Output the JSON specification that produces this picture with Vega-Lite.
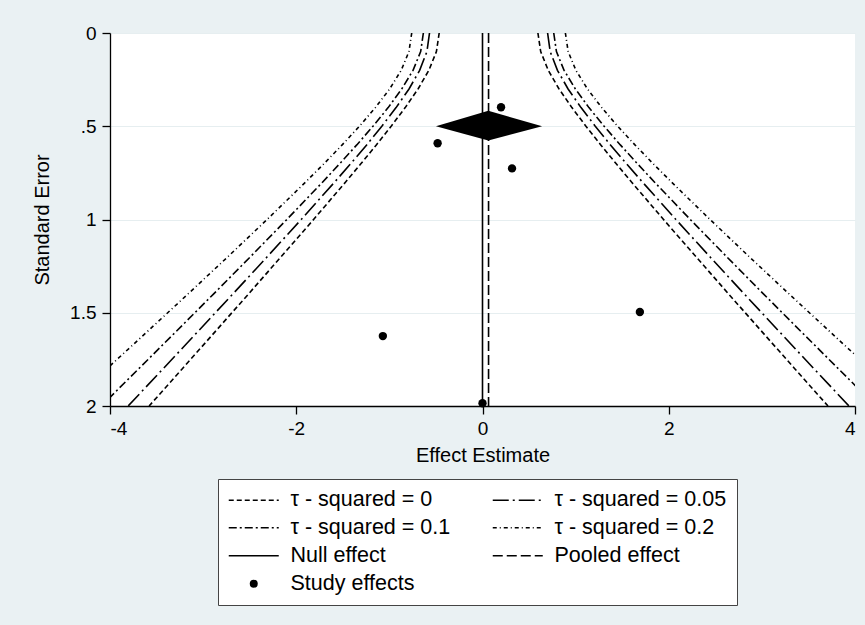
{
  "$schema": "https://vega.github.io/schema/vega-lite/v6.json",
  "width": 745,
  "height": 373,
  "autosize": {"type": "none"},
  "padding": {"left": 110, "top": 33, "right": 10, "bottom": 219},
  "background": "#eaf1f3",
  "config": {
    "view": {"fill": "white", "stroke": null},
    "font": "Liberation Sans",
    "axis": {
      "domainColor": "black", "domainWidth": 1.3, "tickColor": "black", "tickWidth": 1.3,
      "labelColor": "black", "labelFontSize": 19, "titleColor": "black", "titleFontSize": 20,
      "titleFontWeight": "normal", "labelFont": "Liberation Sans", "titleFont": "Liberation Sans"
    }
  },
  "datasets": {
    "curves": [
      {"series": "τ - squared = 0", "side": "L", "se": 0, "es": -0.465},
      {"series": "τ - squared = 0", "side": "L", "se": 0.1, "es": -0.495},
      {"series": "τ - squared = 0", "side": "L", "se": 0.2, "es": -0.576},
      {"series": "τ - squared = 0", "side": "L", "se": 0.3, "es": -0.692},
      {"series": "τ - squared = 0", "side": "L", "se": 0.4, "es": -0.830},
      {"series": "τ - squared = 0", "side": "L", "se": 0.5, "es": -0.981},
      {"series": "τ - squared = 0", "side": "L", "se": 0.6, "es": -1.140},
      {"series": "τ - squared = 0", "side": "L", "se": 0.7, "es": -1.304},
      {"series": "τ - squared = 0", "side": "L", "se": 0.8, "es": -1.472},
      {"series": "τ - squared = 0", "side": "L", "se": 1.0, "es": -1.814},
      {"series": "τ - squared = 0", "side": "L", "se": 1.2, "es": -2.163},
      {"series": "τ - squared = 0", "side": "L", "se": 1.4, "es": -2.514},
      {"series": "τ - squared = 0", "side": "L", "se": 1.6, "es": -2.868},
      {"series": "τ - squared = 0", "side": "L", "se": 1.8, "es": -3.223},
      {"series": "τ - squared = 0", "side": "L", "se": 2.0, "es": -3.580},
      {"series": "τ - squared = 0", "side": "R", "se": 0, "es": 0.595},
      {"series": "τ - squared = 0", "side": "R", "se": 0.1, "es": 0.625},
      {"series": "τ - squared = 0", "side": "R", "se": 0.2, "es": 0.706},
      {"series": "τ - squared = 0", "side": "R", "se": 0.3, "es": 0.822},
      {"series": "τ - squared = 0", "side": "R", "se": 0.4, "es": 0.960},
      {"series": "τ - squared = 0", "side": "R", "se": 0.5, "es": 1.111},
      {"series": "τ - squared = 0", "side": "R", "se": 0.6, "es": 1.270},
      {"series": "τ - squared = 0", "side": "R", "se": 0.7, "es": 1.434},
      {"series": "τ - squared = 0", "side": "R", "se": 0.8, "es": 1.602},
      {"series": "τ - squared = 0", "side": "R", "se": 1.0, "es": 1.944},
      {"series": "τ - squared = 0", "side": "R", "se": 1.2, "es": 2.293},
      {"series": "τ - squared = 0", "side": "R", "se": 1.4, "es": 2.644},
      {"series": "τ - squared = 0", "side": "R", "se": 1.6, "es": 2.998},
      {"series": "τ - squared = 0", "side": "R", "se": 1.8, "es": 3.353},
      {"series": "τ - squared = 0", "side": "R", "se": 2.0, "es": 3.710},
      {"series": "τ - squared = 0.05", "side": "L", "se": 0, "es": -0.569},
      {"series": "τ - squared = 0.05", "side": "L", "se": 0.1, "es": -0.597},
      {"series": "τ - squared = 0.05", "side": "L", "se": 0.2, "es": -0.675},
      {"series": "τ - squared = 0.05", "side": "L", "se": 0.3, "es": -0.789},
      {"series": "τ - squared = 0.05", "side": "L", "se": 0.4, "es": -0.928},
      {"series": "τ - squared = 0.05", "side": "L", "se": 0.5, "es": -1.081},
      {"series": "τ - squared = 0.05", "side": "L", "se": 0.6, "es": -1.244},
      {"series": "τ - squared = 0.05", "side": "L", "se": 0.7, "es": -1.414},
      {"series": "τ - squared = 0.05", "side": "L", "se": 0.8, "es": -1.589},
      {"series": "τ - squared = 0.05", "side": "L", "se": 1.0, "es": -1.947},
      {"series": "τ - squared = 0.05", "side": "L", "se": 1.2, "es": -2.312},
      {"series": "τ - squared = 0.05", "side": "L", "se": 1.4, "es": -2.682},
      {"series": "τ - squared = 0.05", "side": "L", "se": 1.6, "es": -3.055},
      {"series": "τ - squared = 0.05", "side": "L", "se": 1.8, "es": -3.429},
      {"series": "τ - squared = 0.05", "side": "L", "se": 2.0, "es": -3.805},
      {"series": "τ - squared = 0.05", "side": "R", "se": 0, "es": 0.699},
      {"series": "τ - squared = 0.05", "side": "R", "se": 0.1, "es": 0.727},
      {"series": "τ - squared = 0.05", "side": "R", "se": 0.2, "es": 0.805},
      {"series": "τ - squared = 0.05", "side": "R", "se": 0.3, "es": 0.919},
      {"series": "τ - squared = 0.05", "side": "R", "se": 0.4, "es": 1.058},
      {"series": "τ - squared = 0.05", "side": "R", "se": 0.5, "es": 1.211},
      {"series": "τ - squared = 0.05", "side": "R", "se": 0.6, "es": 1.374},
      {"series": "τ - squared = 0.05", "side": "R", "se": 0.7, "es": 1.544},
      {"series": "τ - squared = 0.05", "side": "R", "se": 0.8, "es": 1.719},
      {"series": "τ - squared = 0.05", "side": "R", "se": 1.0, "es": 2.077},
      {"series": "τ - squared = 0.05", "side": "R", "se": 1.2, "es": 2.442},
      {"series": "τ - squared = 0.05", "side": "R", "se": 1.4, "es": 2.812},
      {"series": "τ - squared = 0.05", "side": "R", "se": 1.6, "es": 3.185},
      {"series": "τ - squared = 0.05", "side": "R", "se": 1.8, "es": 3.559},
      {"series": "τ - squared = 0.05", "side": "R", "se": 2.0, "es": 3.935},
      {"series": "τ - squared = 0.1", "side": "L", "se": 0, "es": -0.635},
      {"series": "τ - squared = 0.1", "side": "L", "se": 0.1, "es": -0.664},
      {"series": "τ - squared = 0.1", "side": "L", "se": 0.2, "es": -0.746},
      {"series": "τ - squared = 0.1", "side": "L", "se": 0.3, "es": -0.867},
      {"series": "τ - squared = 0.1", "side": "L", "se": 0.4, "es": -1.013},
      {"series": "τ - squared = 0.1", "side": "L", "se": 0.5, "es": -1.176},
      {"series": "τ - squared = 0.1", "side": "L", "se": 0.6, "es": -1.350},
      {"series": "τ - squared = 0.1", "side": "L", "se": 0.7, "es": -1.532},
      {"series": "τ - squared = 0.1", "side": "L", "se": 0.8, "es": -1.718},
      {"series": "τ - squared = 0.1", "side": "L", "se": 1.0, "es": -2.101},
      {"series": "τ - squared = 0.1", "side": "L", "se": 1.2, "es": -2.493},
      {"series": "τ - squared = 0.1", "side": "L", "se": 1.4, "es": -2.889},
      {"series": "τ - squared = 0.1", "side": "L", "se": 1.6, "es": -3.289},
      {"series": "τ - squared = 0.1", "side": "L", "se": 1.8, "es": -3.691},
      {"series": "τ - squared = 0.1", "side": "L", "se": 2.0, "es": -4.094},
      {"series": "τ - squared = 0.1", "side": "R", "se": 0, "es": 0.765},
      {"series": "τ - squared = 0.1", "side": "R", "se": 0.1, "es": 0.794},
      {"series": "τ - squared = 0.1", "side": "R", "se": 0.2, "es": 0.876},
      {"series": "τ - squared = 0.1", "side": "R", "se": 0.3, "es": 0.997},
      {"series": "τ - squared = 0.1", "side": "R", "se": 0.4, "es": 1.143},
      {"series": "τ - squared = 0.1", "side": "R", "se": 0.5, "es": 1.306},
      {"series": "τ - squared = 0.1", "side": "R", "se": 0.6, "es": 1.480},
      {"series": "τ - squared = 0.1", "side": "R", "se": 0.7, "es": 1.662},
      {"series": "τ - squared = 0.1", "side": "R", "se": 0.8, "es": 1.848},
      {"series": "τ - squared = 0.1", "side": "R", "se": 1.0, "es": 2.231},
      {"series": "τ - squared = 0.1", "side": "R", "se": 1.2, "es": 2.623},
      {"series": "τ - squared = 0.1", "side": "R", "se": 1.4, "es": 3.019},
      {"series": "τ - squared = 0.1", "side": "R", "se": 1.6, "es": 3.419},
      {"series": "τ - squared = 0.1", "side": "R", "se": 1.8, "es": 3.821},
      {"series": "τ - squared = 0.1", "side": "R", "se": 2.0, "es": 4.224},
      {"series": "τ - squared = 0.2", "side": "L", "se": 0, "es": -0.760},
      {"series": "τ - squared = 0.2", "side": "L", "se": 0.1, "es": -0.790},
      {"series": "τ - squared = 0.2", "side": "L", "se": 0.2, "es": -0.873},
      {"series": "τ - squared = 0.2", "side": "L", "se": 0.3, "es": -0.997},
      {"series": "τ - squared = 0.2", "side": "L", "se": 0.4, "es": -1.150},
      {"series": "τ - squared = 0.2", "side": "L", "se": 0.5, "es": -1.322},
      {"series": "τ - squared = 0.2", "side": "L", "se": 0.6, "es": -1.507},
      {"series": "τ - squared = 0.2", "side": "L", "se": 0.7, "es": -1.701},
      {"series": "τ - squared = 0.2", "side": "L", "se": 0.8, "es": -1.901},
      {"series": "τ - squared = 0.2", "side": "L", "se": 1.0, "es": -2.313},
      {"series": "τ - squared = 0.2", "side": "L", "se": 1.2, "es": -2.735},
      {"series": "τ - squared = 0.2", "side": "L", "se": 1.4, "es": -3.164},
      {"series": "τ - squared = 0.2", "side": "L", "se": 1.6, "es": -3.597},
      {"series": "τ - squared = 0.2", "side": "L", "se": 1.8, "es": -4.033},
      {"series": "τ - squared = 0.2", "side": "L", "se": 2.0, "es": -4.471},
      {"series": "τ - squared = 0.2", "side": "R", "se": 0, "es": 0.890},
      {"series": "τ - squared = 0.2", "side": "R", "se": 0.1, "es": 0.920},
      {"series": "τ - squared = 0.2", "side": "R", "se": 0.2, "es": 1.003},
      {"series": "τ - squared = 0.2", "side": "R", "se": 0.3, "es": 1.127},
      {"series": "τ - squared = 0.2", "side": "R", "se": 0.4, "es": 1.280},
      {"series": "τ - squared = 0.2", "side": "R", "se": 0.5, "es": 1.452},
      {"series": "τ - squared = 0.2", "side": "R", "se": 0.6, "es": 1.637},
      {"series": "τ - squared = 0.2", "side": "R", "se": 0.7, "es": 1.831},
      {"series": "τ - squared = 0.2", "side": "R", "se": 0.8, "es": 2.031},
      {"series": "τ - squared = 0.2", "side": "R", "se": 1.0, "es": 2.443},
      {"series": "τ - squared = 0.2", "side": "R", "se": 1.2, "es": 2.865},
      {"series": "τ - squared = 0.2", "side": "R", "se": 1.4, "es": 3.294},
      {"series": "τ - squared = 0.2", "side": "R", "se": 1.6, "es": 3.727},
      {"series": "τ - squared = 0.2", "side": "R", "se": 1.8, "es": 4.163},
      {"series": "τ - squared = 0.2", "side": "R", "se": 2.0, "es": 4.601}
    ],
    "refs": [
      {"series": "Null effect", "es": 0},
      {"series": "Pooled effect", "es": 0.065}
    ],
    "diamond": [
      {"es": -0.5, "top": 0.5, "bottom": 0.5},
      {"es": 0.062, "top": 0.417, "bottom": 0.577},
      {"es": 0.64, "top": 0.5, "bottom": 0.5}
    ],
    "studies": [
      {"series": "Study effects", "es": 0.199, "se": 0.398},
      {"series": "Study effects", "es": -0.482, "se": 0.591},
      {"series": "Study effects", "es": 0.317, "se": 0.726},
      {"series": "Study effects", "es": -1.07, "se": 1.625},
      {"series": "Study effects", "es": 1.69, "se": 1.496},
      {"series": "Study effects", "es": 0.0, "se": 1.985}
    ]
  },
  "encoding": {
    "x": {
      "field": "es", "type": "quantitative",
      "scale": {"domain": [-4, 4], "nice": false, "zero": false},
      "axis": {"title": "Effect Estimate", "values": [-4, -2, 0, 2, 4], "grid": false, "tickSize": 8, "labelPadding": 5, "titlePadding": 7, "labelExpr": "replace(datum.label, '\u2212', '-')"}
    }
  },
  "layer": [
    {
      "data": {"name": "curves"},
      "mark": {"type": "line", "clip": true, "stroke": "black", "strokeWidth": 1.6},
      "encoding": {
        "y": {
          "field": "se", "type": "quantitative",
          "scale": {"domain": [0, 2], "reverse": true, "nice": false, "zero": false},
          "axis": {"title": "Standard Error", "values": [0, 0.5, 1, 1.5, 2], "format": "~g", "grid": true, "gridColor": "#e6eef0", "gridWidth": 1.2, "tickSize": 8, "labelPadding": 6, "titlePadding": 17, "labelExpr": "datum.value == 0.5 ? '.5' : datum.label"}
        },
        "detail": {"field": "side"},
        "order": {"field": "se"},
        "strokeDash": {
          "field": "series", "type": "nominal",
          "scale": {
            "domain": ["τ - squared = 0", "τ - squared = 0.1", "Null effect", "Study effects", "τ - squared = 0.05", "τ - squared = 0.2", "Pooled effect"],
            "range": [[5, 3], [8, 3, 2, 3], [1, 0], [1, 0], [16, 4, 2, 4], [4, 3, 1, 3], [10, 4]]
          },
          "legend": {
            "title": null, "orient": "none", "legendX": 108, "legendY": 446, "columns": 2,
            "symbolType": "stroke", "symbolSize": 2500, "symbolStrokeWidth": 1.5, "symbolStrokeColor": "black",
            "symbolOffset": 15,
            "labelFont": "Liberation Sans", "labelFontSize": 21.5, "labelColor": "black", "labelOffset": 26,
            "strokeColor": "#444", "fillColor": "white", "padding": 10, "columnPadding": 38, "rowPadding": 5,
            "labelLimit": 400,
            "encode": {
              "symbols": {
                "update": {
                  "shape": {"signal": "datum.value === 'Study effects' ? 'circle' : 'stroke'"},
                  "size": {"signal": "datum.value === 'Study effects' ? 64 : 2500"},
                  "fill": {"signal": "datum.value === 'Study effects' ? 'black' : 'transparent'"},
                  "stroke": {"value": "black"},
                  "strokeWidth": {"signal": "datum.value === 'Study effects' ? 0 : 1.5"}
                }
              }
            }
          }
        }
      }
    },
    {
      "data": {"name": "refs"},
      "mark": {"type": "rule", "stroke": "black", "strokeWidth": 1.6},
      "encoding": {
        "strokeDash": {"field": "series", "type": "nominal"}
      }
    },
    {
      "data": {"name": "diamond"},
      "mark": {"type": "area", "color": "black", "orient": "vertical", "opacity": 1},
      "encoding": {
        "y": {"field": "top", "type": "quantitative"},
        "y2": {"field": "bottom"}
      }
    },
    {
      "data": {"name": "studies"},
      "mark": {"type": "point", "filled": true, "color": "black", "size": 70, "opacity": 1},
      "encoding": {
        "y": {"field": "se", "type": "quantitative"},
        "strokeDash": {"field": "series", "type": "nominal"}
      }
    }
  ]
}
